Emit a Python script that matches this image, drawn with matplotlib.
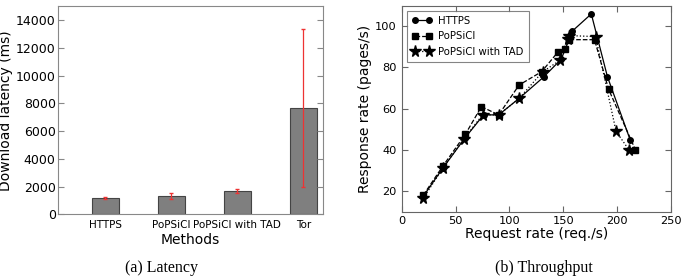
import matplotlib
matplotlib.use("Agg")
import matplotlib.pyplot as plt
import numpy as np

# (a) latency
methods = ["HTTPS", "PoPSiCl", "PoPSiCl with TAD", "Tor"]
latency_ms = [1200, 1310, 1670, 7650]
latency_err = [80, 200, 150, 5700]

# (b) throughput
https_req = [20, 38, 59, 76, 90, 109, 132, 148, 152, 156, 158, 176, 191, 212]
https_resp = [17.5, 31, 46, 57, 57, 65, 75.5, 84, 89, 95, 97.5, 106, 75.5, 45]
popsicl_req = [20, 38, 59, 74, 90, 109, 130, 145, 152, 155, 179, 192, 217]
popsicl_resp = [18, 32, 47.5, 61, 57, 71.5, 78, 87.5, 89, 93.5, 93.5, 69.5, 40]
tad_req = [20, 38, 58, 75, 90, 109, 131, 147, 154, 155, 180, 199, 211]
tad_resp = [16.5, 31, 45.5, 57, 57, 65, 78, 83.5, 94, 95.5, 95, 49, 40]

fig = plt.figure(figsize=(6.84, 2.78), dpi=100)

# ---- left: latency bars
ax1 = fig.add_axes([0.0855, 0.229, 0.3867, 0.749])
x = np.arange(len(methods))
w = 0.41
ax1.bar(x, latency_ms, width=w, align='edge', color='#7f7f7f', edgecolor='#444444', linewidth=0.8)
ax1.errorbar(x + w / 2, latency_ms, yerr=latency_err, fmt='none', ecolor='#ee3333', elinewidth=0.9, capsize=1.5)
ax1.set_xlim(-0.5, 3.5)
ax1.set_ylim(0, 15000)
ax1.set_yticks(range(0, 15000, 2000))
ax1.set_xticks(x + w / 2)
ax1.set_xticklabels(methods, fontsize=7.5)
ax1.tick_params(axis='x', length=0, pad=4)
ax1.tick_params(axis='y', direction='in', right=True, labelsize=9, pad=2, length=4, color='#888888')
ax1.set_xlabel("Methods", fontsize=10, labelpad=2)
ax1.set_ylabel("Download latency (ms)", fontsize=10, labelpad=2)
for s in ax1.spines.values():
    s.set_color('#888888')

# ---- right: throughput lines
ax2 = fig.add_axes([0.5873, 0.2385, 0.3937, 0.741])
ax2.plot(https_req, https_resp, 'k-', marker='o', markersize=4, linewidth=0.9, label="HTTPS")
ax2.plot(popsicl_req, popsicl_resp, 'k--', marker='s', markersize=4.5, linewidth=0.9, label="PoPSiCl")
ax2.plot(tad_req, tad_resp, 'k:', marker='*', markersize=8.5, linewidth=0.9, label="PoPSiCl with TAD")
ax2.set_xlim(0, 250)
ax2.set_ylim(10, 110)
ax2.set_yticks([20, 40, 60, 80, 100])
ax2.set_xticks([0, 50, 100, 150, 200, 250])
ax2.tick_params(direction='in', top=True, right=True, labelsize=8.2, length=4, color='#666666')
ax2.tick_params(axis='x', pad=3)
ax2.set_xlabel("Request rate (req./s)", fontsize=10, labelpad=1)
ax2.set_ylabel("Response rate (pages/s)", fontsize=10, labelpad=2)
for s in ax2.spines.values():
    s.set_color('#666666')
# old-style legend: two markers per entry
leg = ax2.legend(loc='upper left', fontsize=7.3, fancybox=False, numpoints=2, handlelength=2.0,
                 borderpad=0.5, labelspacing=0.55, handletextpad=0.6, borderaxespad=0.5)
leg.get_frame().set_edgecolor('#666666')
leg.get_frame().set_linewidth(0.8)

fig.text(0.236, 0.02, "(a) Latency", fontsize=11.5, family='Liberation Serif', ha='center')
fig.text(0.795, 0.02, "(b) Throughput", fontsize=11.5, family='Liberation Serif', ha='center')

fig.savefig("out.png", dpi=100)
